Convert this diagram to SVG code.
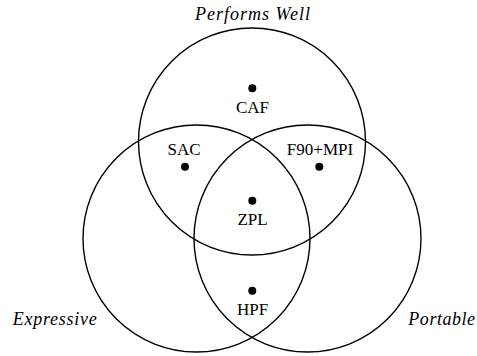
<svg xmlns="http://www.w3.org/2000/svg" width="477" height="356" viewBox="0 0 477 356">
<style>
.c{fill:none;stroke:#000;stroke-width:1.4}
.d{fill:#000}
.t{font-family:"Liberation Serif","Times New Roman",serif;font-size:17px;fill:#000;text-anchor:middle}
.i{font-family:"Liberation Serif","Times New Roman",serif;font-size:18px;font-style:italic;fill:#000;text-anchor:middle}
</style>
<rect width="477" height="356" fill="#fff"/>
<g id="connectors"></g>
<g id="circle-performs-well">
<circle class="c" cx="252" cy="141.5" r="113.5"/>
<text class="i" x="252.5" y="20" textLength="115" lengthAdjust="spacing">Performs Well</text>
</g>
<g id="circle-expressive">
<circle class="c" cx="196.5" cy="238.5" r="113.5"/>
<text class="i" x="54.7" y="325" textLength="84" lengthAdjust="spacing">Expressive</text>
</g>
<g id="circle-portable">
<circle class="c" cx="307.5" cy="238.5" r="113.5"/>
<text class="i" x="441.7" y="325" textLength="66.7" lengthAdjust="spacing">Portable</text>
</g>
<g id="caf">
<circle class="d" cx="252.3" cy="88.3" r="4"/>
<text class="t" x="252.5" y="112.7">CAF</text>
</g>
<g id="sac">
<circle class="d" cx="185" cy="166.7" r="4"/>
<text class="t" x="184" y="155">SAC</text>
</g>
<g id="f90mpi">
<circle class="d" cx="319.3" cy="166.7" r="4"/>
<text class="t" x="320" y="155">F90+MPI</text>
</g>
<g id="zpl">
<circle class="d" cx="252.3" cy="200.7" r="4"/>
<text class="t" x="252.5" y="225">ZPL</text>
</g>
<g id="hpf">
<circle class="d" cx="252.3" cy="290.7" r="4"/>
<text class="t" x="252.5" y="315">HPF</text>
</g>
</svg>
